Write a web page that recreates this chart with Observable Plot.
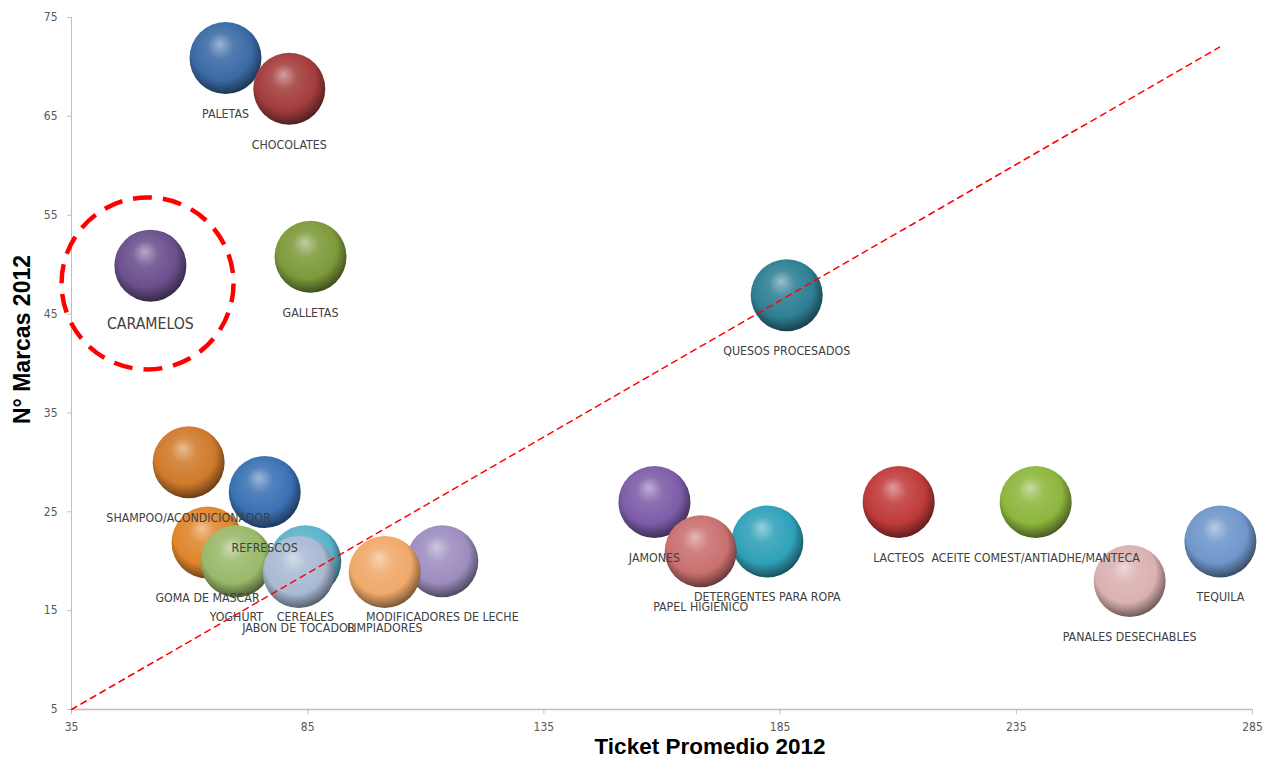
<!DOCTYPE html>
<html><head><meta charset="utf-8">
<script src="https://cdn.jsdelivr.net/npm/d3@7"></script>
<script src="https://cdn.jsdelivr.net/npm/@observablehq/plot@0.6"></script>
<style>body{margin:0;background:#fff;}</style>
</head><body><div id="chart"></div>
<script>
// ---- data ----
const categories = ["PALETAS","CHOCOLATES","CARAMELOS","GALLETAS","QUESOS PROCESADOS","SHAMPOO/ACONDICIONADOR","REFRESCOS","GOMA DE MASCAR","YOGHURT","CEREALES","JABON DE TOCADOR","MODIFICADORES DE LECHE","LIMPIADORES","JAMONES","DETERGENTES PARA ROPA","PAPEL HIGIENICO","LACTEOS","ACEITE COMEST/ANTIADHE/MANTECA","PANALES DESECHABLES","TEQUILA"];
const ticketPromedio = [67.6, 81.1, 51.7, 85.6, 186.4, 59.8, 75.9, 63.8, 69.9, 84.5, 83.1, 113.5, 101.3, 158.4, 182.3, 168.2, 210.1, 239.1, 259.0, 278.2];
const numMarcas = [70.9, 67.8, 49.9, 50.8, 46.9, 30.0, 27.0, 21.9, 20.0, 20.0, 18.9, 20.0, 18.9, 26.0, 22.0, 21.0, 26.0, 26.0, 18.0, 22.0];
const bubbleColors = ["#3a6aa5","#a33c3c","#6a4f8c","#7d9a3a","#2e7f94","#cf7a2b","#3a71b3","#e0852c","#9ab96a","#5bb3c9","#a9bad4","#9d8dbf","#f0a96a","#7c5ca8","#2fa1b9","#c9716f","#c03a3a","#8db63d","#dbb1b1","#6f97cb"];
const xTicks = [35, 85, 135, 185, 235, 285];
const yTicks = [5, 15, 25, 35, 45, 55, 65, 75];
const diagonalX = [35, 278];
const diagonalY = [5, 72];
const highlightX = [51.1];
const highlightY = [48.1];
const xTitle = "Ticket Promedio 2012";
const yTitle = "N° Marcas 2012";

// ---- tables ----
const data = categories.map((c, i) => ({name: c, x: ticketPromedio[i], y: numMarcas[i], id: i}));
const diagonal = diagonalX.map((x, i) => ({x, y: diagonalY[i]}));
const highlight = highlightX.map((x, i) => ({x, y: highlightY[i]}));

const NARROW = "'Liberation Sans Narrow','Arial Narrow','DejaVu Sans Condensed',sans-serif";
const BOLD = "'Liberation Sans',Arial,sans-serif";

const plot = Plot.plot({
  width: 1266, height: 759,
  marginLeft: 71, marginRight: 14, marginTop: 17, marginBottom: 50,
  style: {background: "#fff", fontFamily: NARROW},
  x: {domain: [35, 285]},
  y: {domain: [5, 75]},
  color: {type: "identity"},
  marks: [
    Plot.ruleX([35], {stroke: "#bfbfbf"}),
    Plot.ruleY([5], {stroke: "#bfbfbf", strokeWidth: 1.5}),
    Plot.axisY(yTicks, {tickSize: 4, tickPadding: 10, stroke: "#bfbfbf", fill: "#595959", fontSize: 12, label: null}),
    Plot.axisX(xTicks, {tickSize: 5, tickPadding: 8, stroke: "#bfbfbf", fill: "#595959", fontSize: 12, label: null}),
    Plot.dot(data, {x: "x", y: "y", r: 36, fill: d => `url(#sphere${d.id})`}),
    Plot.text(data.filter(d => d.name !== "CARAMELOS"), {x: "x", y: "y", text: "name", dy: 56, fontSize: 12.3, fill: "#404040", fontFamily: NARROW}),
    Plot.text(data.filter(d => d.name === "CARAMELOS"), {x: "x", y: "y", text: "name", dy: 58, fontSize: 15.7, fill: "#404040", fontFamily: NARROW}),
    Plot.line(diagonal, {x: "x", y: "y", stroke: "#ff0000", strokeWidth: 1.5, strokeDasharray: "6,5"}),
    Plot.dot(highlight, {x: "x", y: "y", r: 86, stroke: "#ff0000", strokeWidth: 4.5, strokeDasharray: "19,11", fill: "none"}),
    Plot.text([xTitle], {frameAnchor: "bottom", textAnchor: "middle", lineAnchor: "middle", dx: 48, dy: 37, fontSize: 22.5, fontWeight: "bold", fontFamily: BOLD, fill: "#000"}),
    Plot.text([yTitle], {frameAnchor: "left", textAnchor: "middle", lineAnchor: "middle", dx: -49, dy: -24, rotate: -90, fontSize: 23, fontWeight: "bold", fontFamily: BOLD, fill: "#000"})
  ]
});

// sphere gradients
const NS = "http://www.w3.org/2000/svg";
const defs = document.createElementNS(NS, "defs");
bubbleColors.forEach((c, i) => {
  const g = document.createElementNS(NS, "radialGradient");
  g.setAttribute("id", `sphere${i}`);
  g.setAttribute("cx", "0.46"); g.setAttribute("cy", "0.42"); g.setAttribute("r", "0.6");
  g.setAttribute("fx", "0.42"); g.setAttribute("fy", "0.3");
  const stops = [
    [0, d3.interpolateRgb(c, "#ffffff")(0.5)],
    [0.3, d3.interpolateRgb(c, "#ffffff")(0.12)],
    [0.7, c],
    [0.9, d3.interpolateRgb(c, "#000000")(0.35)],
    [1, d3.interpolateRgb(c, "#000000")(0.55)]
  ];
  for (const [o, col] of stops) {
    const s = document.createElementNS(NS, "stop");
    s.setAttribute("offset", o);
    s.setAttribute("stop-color", col);
    g.appendChild(s);
  }
  defs.appendChild(g);
});
plot.insertBefore(defs, plot.firstChild);
document.getElementById("chart").appendChild(plot);
</script>
</body></html>
